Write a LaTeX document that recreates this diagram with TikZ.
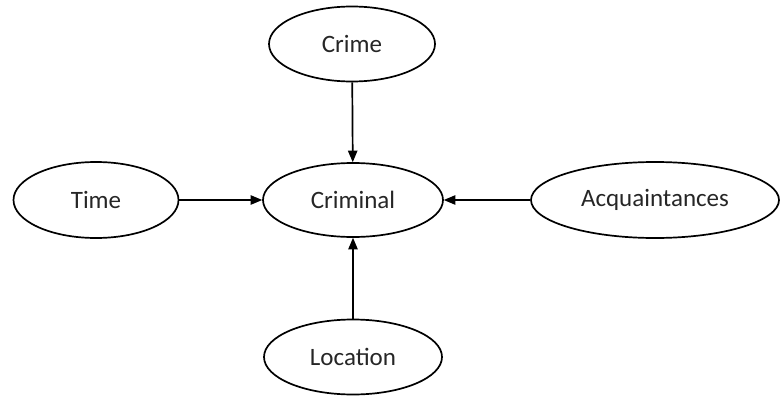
\documentclass[tikz,border=0pt]{standalone}
\usepackage{fontspec}
\setmainfont{Carlito}
\usepackage{tikz}
\usetikzlibrary{arrows}
\usetikzlibrary{shapes.geometric}
\tikzset{
every node/.style={ellipse, draw, line width=1.7pt, inner sep=0pt, text=black!85, font=\fontsize{25}{30}\selectfont},
link/.style={-triangle 45, line width=1.7pt}
}

\begin{document}
\begin{tikzpicture}[x=1pt, y=-1pt]
\useasboundingbox (0,0) rectangle (781,396);

\node[minimum width=166pt, minimum height=75pt] (crime) at (352,44) {Crime};
\node[minimum width=180pt, minimum height=74pt] (criminal) at (353,200) {Criminal};
\node[minimum width=165pt, minimum height=76pt] (time) at (96,200) {Time};
\node[minimum width=248pt, minimum height=76pt] (acq) at (655,200) {Acquaintances};
\node[minimum width=178pt, minimum height=75pt] (loc) at (353,357) {Location};

\draw[link] (crime) -- (criminal);
\draw[link] (time) -- (criminal);
\draw[link] (acq) -- (criminal);
\draw[link] (loc) -- (criminal);

\end{tikzpicture}
\end{document}
